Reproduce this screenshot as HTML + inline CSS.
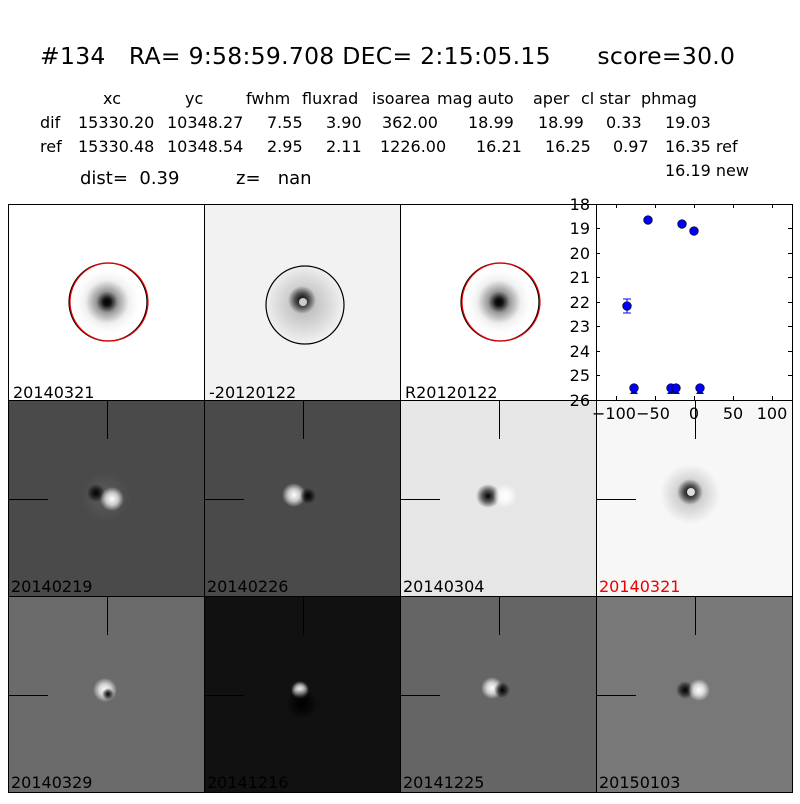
<!DOCTYPE html>
<html><head><meta charset="utf-8"><style>
body{margin:0;width:800px;height:800px;background:#fff;overflow:hidden;font-family:"DejaVu Sans","Liberation Sans",sans-serif;}
svg text{font-family:"DejaVu Sans","Liberation Sans",sans-serif;white-space:pre;}
</style></head><body>
<svg width="800" height="800" viewBox="0 0 800 800" xmlns="http://www.w3.org/2000/svg" xml:space="preserve">
<defs>
<radialGradient id="star"><stop offset="0" stop-color="#000"/><stop offset="0.1" stop-color="#111"/><stop offset="0.3" stop-color="#999"/><stop offset="0.6" stop-color="#eee"/><stop offset="1" stop-color="#fff" stop-opacity="0"/></radialGradient>
<radialGradient id="dk"><stop offset="0" stop-color="#000"/><stop offset="0.5" stop-color="#000" stop-opacity="0.6"/><stop offset="1" stop-color="#000" stop-opacity="0"/></radialGradient>
<radialGradient id="wh"><stop offset="0" stop-color="#fff"/><stop offset="0.5" stop-color="#fff" stop-opacity="0.7"/><stop offset="1" stop-color="#fff" stop-opacity="0"/></radialGradient>
<radialGradient id="halo"><stop offset="0" stop-color="#888" stop-opacity="0.6"/><stop offset="1" stop-color="#888" stop-opacity="0"/></radialGradient>
</defs>
<text x="40" y="64" font-size="23.5" textLength="695" lengthAdjust="spacing">#134   RA= 9:58:59.708 DEC= 2:15:05.15      score=30.0</text>
<g font-size="16">
<text x="103" y="104">xc</text><text x="185" y="104">yc</text><text x="246" y="104">fwhm</text><text x="302" y="104">fluxrad</text><text x="372" y="104">isoarea</text><text x="437" y="104">mag auto</text><text x="533" y="104">aper</text><text x="581" y="104">cl star</text><text x="641" y="104">phmag</text>
<text x="40" y="128">dif</text><text x="78" y="128">15330.20</text><text x="167" y="128">10348.27</text><text x="267" y="128">7.55</text><text x="326" y="128">3.90</text><text x="382" y="128">362.00</text><text x="468" y="128">18.99</text><text x="538" y="128">18.99</text><text x="606" y="128">0.33</text><text x="665" y="128">19.03</text>
<text x="40" y="152">ref</text><text x="78" y="152">15330.48</text><text x="167" y="152">10348.54</text><text x="267" y="152">2.95</text><text x="326" y="152">2.11</text><text x="380" y="152">1226.00</text><text x="476" y="152">16.21</text><text x="545" y="152">16.25</text><text x="613" y="152">0.97</text><text x="665" y="152">16.35 ref</text>
<text x="665" y="176">16.19 new</text>
</g>
<text x="80" y="184" font-size="18">dist=  0.39</text><text x="236" y="184" font-size="18">z=   nan</text>

<rect x="8" y="204" width="196" height="196" fill="#fff"/>
<circle cx="107" cy="302" r="36" fill="url(#star)"/>
<circle cx="108" cy="302" r="39" fill="none" stroke="#000" stroke-width="1.2"/>
<circle cx="109" cy="302" r="39" fill="none" stroke="#e00" stroke-width="1.2"/>
<rect x="204" y="204" width="196" height="196" fill="#f2f2f2"/>
<circle cx="304" cy="304" r="40" fill="url(#halo)"/>
<circle cx="302" cy="300" r="14" fill="url(#dk)"/>
<circle cx="303" cy="302" r="4" fill="#ccc"/>
<circle cx="305" cy="305" r="39" fill="none" stroke="#000" stroke-width="1.2"/>
<rect x="400" y="204" width="196" height="196" fill="#fff"/>
<circle cx="499" cy="302" r="36" fill="url(#star)"/>
<circle cx="500" cy="302" r="39" fill="none" stroke="#000" stroke-width="1.2"/>
<circle cx="501" cy="302" r="39" fill="none" stroke="#e00" stroke-width="1.2"/>

<rect x="8" y="400" width="196" height="196" fill="#4a4a4a"/>
<circle cx="106" cy="497" r="25" fill="url(#halo)" opacity="0.5"/>
<circle cx="96" cy="493" r="9" fill="url(#dk)"/><circle cx="112" cy="499" r="12" fill="url(#wh)"/>
<rect x="204" y="400" width="196" height="196" fill="#4a4a4a"/>
<circle cx="294" cy="495" r="12" fill="url(#wh)"/><circle cx="308" cy="496" r="8" fill="url(#dk)"/>
<rect x="400" y="400" width="196" height="196" fill="#e6e6e6"/>
<circle cx="488" cy="496" r="12" fill="url(#dk)"/><circle cx="505" cy="496" r="12" fill="url(#wh)"/>
<rect x="596" y="400" width="196" height="196" fill="#f7f7f7"/>
<circle cx="690" cy="494" r="30" fill="url(#halo)"/><circle cx="690" cy="492" r="13" fill="url(#dk)"/><circle cx="691" cy="492" r="4" fill="#ddd"/>

<rect x="8" y="596" width="196" height="196" fill="#6b6b6b"/>
<circle cx="105" cy="690" r="12" fill="url(#wh)"/><circle cx="108" cy="694" r="6" fill="url(#dk)"/>
<rect x="204" y="596" width="196" height="196" fill="#111"/>
<circle cx="300" cy="690" r="9" fill="url(#wh)"/><circle cx="302" cy="704" r="16" fill="url(#dk)"/>
<rect x="400" y="596" width="196" height="196" fill="#656565"/>
<circle cx="492" cy="688" r="11" fill="url(#wh)"/><circle cx="502" cy="690" r="8" fill="url(#dk)"/>
<rect x="596" y="596" width="196" height="196" fill="#787878"/>
<circle cx="685" cy="690" r="9" fill="url(#dk)"/><circle cx="699" cy="690" r="11" fill="url(#wh)"/>

<g stroke="#000" stroke-width="1">
<line x1="107.5" y1="400" x2="107.5" y2="439"/><line x1="8" y1="499.5" x2="48" y2="499.5"/>
<line x1="303.5" y1="400" x2="303.5" y2="439"/><line x1="204" y1="499.5" x2="244" y2="499.5"/>
<line x1="499.5" y1="400" x2="499.5" y2="439"/><line x1="400" y1="499.5" x2="440" y2="499.5"/>
<line x1="695.5" y1="400" x2="695.5" y2="439"/><line x1="596" y1="499.5" x2="636" y2="499.5"/>
<line x1="107.5" y1="596" x2="107.5" y2="635"/><line x1="8" y1="695.5" x2="48" y2="695.5"/>
<line x1="303.5" y1="596" x2="303.5" y2="635"/><line x1="204" y1="695.5" x2="244" y2="695.5"/>
<line x1="499.5" y1="596" x2="499.5" y2="635"/><line x1="400" y1="695.5" x2="440" y2="695.5"/>
<line x1="695.5" y1="596" x2="695.5" y2="635"/><line x1="596" y1="695.5" x2="636" y2="695.5"/>
</g>

<g fill="none" stroke="#000" stroke-width="1">
<rect x="8.5" y="204.5" width="196" height="196"/><rect x="204.5" y="204.5" width="196" height="196"/><rect x="400.5" y="204.5" width="196" height="196"/>
<rect x="8.5" y="400.5" width="196" height="196"/><rect x="204.5" y="400.5" width="196" height="196"/><rect x="400.5" y="400.5" width="196" height="196"/><rect x="596.5" y="400.5" width="196" height="196"/>
<rect x="8.5" y="596.5" width="196" height="196"/><rect x="204.5" y="596.5" width="196" height="196"/><rect x="400.5" y="596.5" width="196" height="196"/><rect x="596.5" y="596.5" width="196" height="196"/>
</g>

<g font-size="16">
<text x="13" y="398">20140321</text><text x="209" y="398">-20120122</text><text x="405" y="398">R20120122</text>
<text x="11" y="592">20140219</text><text x="207" y="592">20140226</text><text x="403" y="592">20140304</text><text x="599" y="592" fill="#e00">20140321</text>
<text x="11" y="788">20140329</text><text x="207" y="788">20141216</text><text x="403" y="788">20141225</text><text x="599" y="788">20150103</text>
</g>

<rect x="596.5" y="204.5" width="196" height="196" fill="#fff" stroke="#000"/>
<g stroke="#000" stroke-width="1">
<line x1="596" y1="228.5" x2="600" y2="228.5"/><line x1="596" y1="253.5" x2="600" y2="253.5"/><line x1="596" y1="277.5" x2="600" y2="277.5"/><line x1="596" y1="302.5" x2="600" y2="302.5"/><line x1="596" y1="326.5" x2="600" y2="326.5"/><line x1="596" y1="351.5" x2="600" y2="351.5"/><line x1="596" y1="375.5" x2="600" y2="375.5"/>
<line x1="788" y1="228.5" x2="792" y2="228.5"/><line x1="788" y1="253.5" x2="792" y2="253.5"/><line x1="788" y1="277.5" x2="792" y2="277.5"/><line x1="788" y1="302.5" x2="792" y2="302.5"/><line x1="788" y1="326.5" x2="792" y2="326.5"/><line x1="788" y1="351.5" x2="792" y2="351.5"/><line x1="788" y1="375.5" x2="792" y2="375.5"/>
<line x1="616.5" y1="396" x2="616.5" y2="400"/><line x1="655.5" y1="396" x2="655.5" y2="400"/><line x1="694.5" y1="396" x2="694.5" y2="400"/><line x1="733.5" y1="396" x2="733.5" y2="400"/><line x1="772.5" y1="396" x2="772.5" y2="400"/>
<line x1="616.5" y1="204" x2="616.5" y2="208"/><line x1="655.5" y1="204" x2="655.5" y2="208"/><line x1="694.5" y1="204" x2="694.5" y2="208"/><line x1="733.5" y1="204" x2="733.5" y2="208"/><line x1="772.5" y1="204" x2="772.5" y2="208"/>
</g>
<g font-size="16" text-anchor="end">
<text x="590" y="210">18</text><text x="590" y="234">19</text><text x="590" y="259">20</text><text x="590" y="283">21</text><text x="590" y="308">22</text><text x="590" y="332">23</text><text x="590" y="357">24</text><text x="590" y="381">25</text><text x="590" y="406">26</text>
</g>
<g font-size="16" text-anchor="middle">
<text x="614" y="419">−100</text><text x="653" y="419">−50</text><text x="694" y="419">0</text><text x="733" y="419">50</text><text x="772" y="419">100</text>
</g>
<g stroke="#00f" stroke-width="1">
<line x1="627" y1="299" x2="627" y2="313"/><line x1="623" y1="299" x2="631" y2="299"/><line x1="623" y1="313" x2="631" y2="313"/>
</g>
<g fill="#00f">
<polygon points="634,388 630,394 638,394"/><polygon points="671,388 667,394 675,394"/><polygon points="676,388 672,394 680,394"/><polygon points="700,388 696,394 704,394"/>
</g>
<g fill="#00f" stroke="#000" stroke-width="0.7">
<circle cx="648" cy="220" r="4.3"/><circle cx="682" cy="224" r="4.3"/><circle cx="694" cy="231" r="4.3"/><circle cx="627" cy="306" r="4.3"/>
<circle cx="634" cy="388" r="4.3"/><circle cx="671" cy="388" r="4.3"/><circle cx="676" cy="388" r="4.3"/><circle cx="700" cy="388" r="4.3"/>
</g>
</svg>
</body></html>
